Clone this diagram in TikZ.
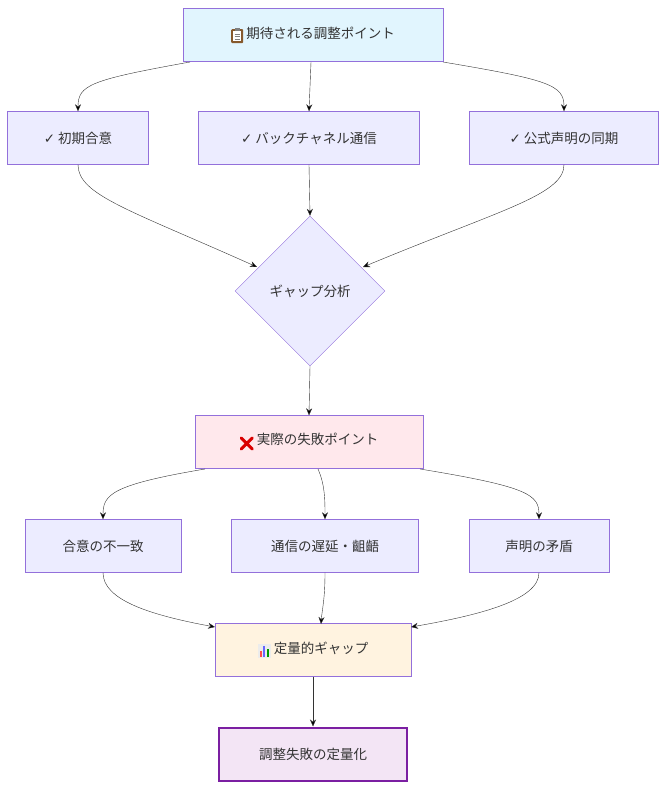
\documentclass[tikz,border=0pt]{standalone}
\usepackage{fontspec}
\setmainfont{Noto Sans CJK JP}
\newfontfamily\symfont{DejaVu Sans}
\usetikzlibrary{shapes.geometric,arrows.meta,positioning}
\definecolor{boxfill}{HTML}{ECECFF}
\definecolor{boxline}{HTML}{9370DB}
\definecolor{topfill}{HTML}{E1F5FE}
\definecolor{failfill}{HTML}{FFE8EC}
\definecolor{quantfill}{HTML}{FFF3E0}
\definecolor{endfill}{HTML}{F3E5F5}
\definecolor{endline}{HTML}{7B1FA2}
\tikzset{
  box/.style={draw=boxline,fill=boxfill,rectangle,minimum height=53pt,inner sep=0pt,font=\fontsize{13.5}{16}\selectfont,text=black!80},
  dia/.style={draw=boxline,fill=boxfill,diamond,minimum width=150pt,minimum height=150pt,inner sep=0pt,font=\fontsize{13.5}{16}\selectfont,text=black!80},
  link/.style={draw=black!80,-{Stealth[length=7pt,width=6pt]}}
}
\newcommand{\ok}{{\symfont ✓}}
% small icons drawn as shapes
\newcommand{\clipicon}{\tikz[baseline=-1pt,x=1pt,y=1pt]{\fill[brown!70!black,rounded corners=1pt] (0,-6) rectangle (12,8);
  \fill[white] (2,-4) rectangle (10,6); \fill[gray] (3.5,6) rectangle (8.5,9);
  \draw[gray,line width=.6pt] (3.5,3)--(8.5,3) (3.5,0.5)--(8.5,0.5) (3.5,-2)--(8.5,-2);}}
\newcommand{\xicon}{\tikz[baseline=-1pt,x=1pt,y=1pt]{\draw[red!85!black,line width=3pt,line cap=round] (1,-5)--(12,6) (1,6)--(12,-5);}}
\newcommand{\charticon}{\tikz[baseline=-1pt,x=1pt,y=1pt]{\fill[gray!15] (0,-6) rectangle (13,8);
  \fill[red!70] (2,-5) rectangle (4,1); \fill[blue!60] (5.5,-5) rectangle (7.5,6); \fill[green!60!black] (9,-5) rectangle (11,3);}}
\begin{document}
\begin{tikzpicture}[x=1pt,y=-1pt]
\useasboundingbox (0,0) rectangle (667,790);
% expected points
\node[box,fill=topfill,minimum width=260pt] (exp) at (313,35) {\clipicon\ 期待される調整ポイント};
\node[box,minimum width=141pt] (agree) at (78,138) {\ok\ 初期合意};
\node[box,minimum width=221pt] (back) at (309,138) {\ok\ バックチャネル通信};
\node[box,minimum width=189pt] (pub) at (564,138) {\ok\ 公式声明の同期};
\node[dia] (gap) at (310,291) {ギャップ分析};
% actual failures
\node[box,fill=failfill,minimum width=228pt] (fail) at (309,442) {\xicon\ 実際の失敗ポイント};
\node[box,minimum width=156pt] (mis) at (103,546) {合意の不一致};
\node[box,minimum width=187pt] (delay) at (325,546) {通信の遅延・齟齬};
\node[box,minimum width=140pt] (contra) at (539,546) {声明の矛盾};
\node[box,fill=quantfill,minimum width=196pt] (quant) at (313,650) {\charticon\ 定量的ギャップ};
\node[box,fill=endfill,draw=endline,line width=2pt,minimum width=188pt] (final) at (313,754) {調整失敗の定量化};

\draw[link] (190,62) .. controls (90,80) and (78,85) .. (agree.north);
\draw[link] (311,62) -- (back.north);
\draw[link] (443,62) .. controls (550,80) and (564,85) .. (pub.north);
\draw[link] (agree.south) .. controls (78,195) and (130,210) .. (257,267);
\draw[link] (back.south) -- (gap.north);
\draw[link] (pub.south) .. controls (564,195) and (500,210) .. (363,267);
\draw[link] (gap.south) -- (fail.north);
\draw[link] (205,469) .. controls (110,485) and (103,495) .. (mis.north);
\draw[link] (318,469) .. controls (325,485) and (325,500) .. (delay.north);
\draw[link] (420,469) .. controls (530,487) and (539,495) .. (contra.north);
\draw[link] (mis.south) .. controls (103,600) and (150,615) .. (215,627);
\draw[link] (delay.south) .. controls (325,600) and (322,610) .. (321,624);
\draw[link] (contra.south) .. controls (539,600) and (480,615) .. (411,627);
\draw[link] (quant.south) -- (final.north);
\end{tikzpicture}
\end{document}
